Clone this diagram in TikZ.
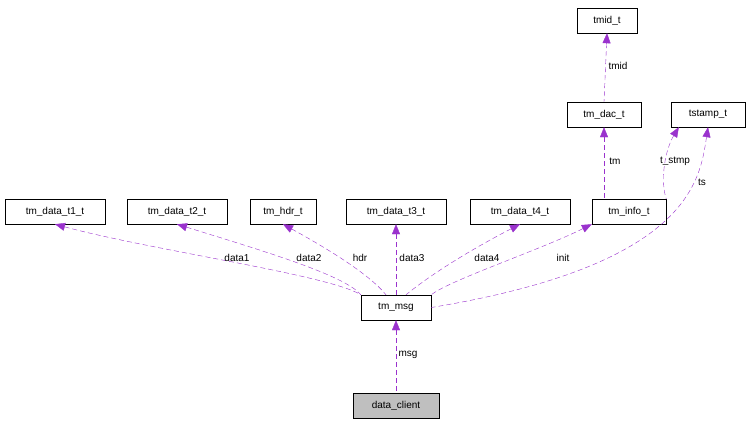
\documentclass[tikz,border=0pt]{standalone}
\usepackage{fontspec}
\setmainfont{Liberation Sans}
\usetikzlibrary{arrows.meta}
\definecolor{edge}{HTML}{9A32CD}
\begin{document}
\begin{tikzpicture}[x=1pt,y=-1pt,
  box/.style={draw=black,fill=white,minimum height=25pt,inner xsep=5pt,font=\fontsize{10}{12}\selectfont,anchor=center},
  con/.style={draw=edge,dashed,dash pattern=on 5pt off 3pt,{Triangle[width=8pt,length=10pt,fill=edge]}-},
  lab/.style={font=\fontsize{10}{12}\selectfont,inner sep=1pt}]
\useasboundingbox[fill=white] (0,0) rectangle (751,424);
\node[box,minimum width=60pt] (tmid) at (607,20.5) {tmid\_t};
\node[box,minimum width=74pt] (dac) at (604,114.5) {tm\_dac\_t};
\node[box,minimum width=74pt] (ts) at (708,114.5) {tstamp\_t};
\node[box,minimum width=100pt] (d1) at (55,211.5) {tm\_data\_t1\_t};
\node[box,minimum width=100pt] (d2) at (177,211.5) {tm\_data\_t2\_t};
\node[box,minimum width=66pt] (hdr) at (283,211.5) {tm\_hdr\_t};
\node[box,minimum width=100pt] (d3) at (396,211.5) {tm\_data\_t3\_t};
\node[box,minimum width=100pt] (d4) at (520,211.5) {tm\_data\_t4\_t};
\node[box,minimum width=74pt] (info) at (629,211.5) {tm\_info\_t};
\node[box,minimum width=70pt] (msg) at (396,307.5) {tm\_msg};
\node[box,minimum width=86pt,fill={rgb,255:red,191;green,191;blue,191}] (dc) at (396,405.5) {data\_client};

\draw[con] (tmid.south) -- (dac.north);
\draw[con] (dac.south) -- (info.north -| dac.south);
\draw[con] (ts.south west) ++(8,0) coordinate (tsa) (tsa) .. controls (665,150) and (660,180) .. (info.north east);
\draw[con] (ts.south) .. controls (700,180) and (690,265) .. (msg.east);
\draw[con] (d1.south) .. controls (150,250) and (330,275) .. (msg.north west);
\draw[con] (d2.south) .. controls (260,250) and (345,275) .. (msg.north west);
\draw[con] (hdr.south) .. controls (330,250) and (370,275) .. ([xshift=-10pt]msg.north);
\draw[con] (d3.south) -- (msg.north);
\draw[con] (d4.south) .. controls (470,250) and (430,275) .. ([xshift=10pt]msg.north);
\draw[con] (info.south west) .. controls (540,250) and (450,280) .. (msg.north east);
\draw[con] (msg.south) -- (dc.north);

\node[lab] at (618,66) {tmid};
\node[lab] at (615,161) {tm};
\node[lab] at (675,161) {t\_stmp};
\node[lab] at (702,182) {ts};
\node[lab] at (237,258) {data1};
\node[lab] at (309,258) {data2};
\node[lab] at (360,258) {hdr};
\node[lab] at (412,258) {data3};
\node[lab] at (487,258) {data4};
\node[lab] at (563,258) {init};
\node[lab] at (408,355) {msg};
\end{tikzpicture}
\end{document}
